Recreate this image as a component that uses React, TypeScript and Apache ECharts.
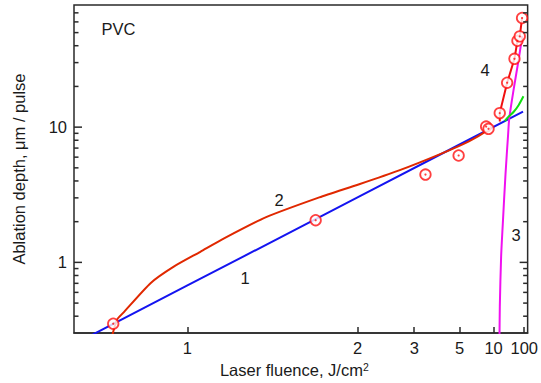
import { useEffect, useRef } from "react";
import * as echarts from "echarts";

// x axis is a reciprocal fluence scale: position u = -1 / F
const X_MIN = -4 / 3;
const X_MAX = 0;
const Y_MIN = 0.3;
const Y_MAX = 80;

const xTickFluence = [1, 2, 3, 5, 10, 100];
const yMajorTicks = [1, 10];
const yMinorTicks = [0.4, 0.5, 0.6, 0.7, 0.8, 0.9, 2, 3, 4, 5, 6, 7, 8, 9, 20, 30, 40, 50, 60, 70];

// experimental points (open circles)
const expFluence = [0.821, 1.605, 3.33, 4.93, 8.2, 8.7, 12.2, 16.6, 25.8, 33.4, 43.2, 61];
const expDepth = [0.352, 2.05, 4.46, 6.17, 10.1, 9.72, 12.7, 21.3, 32.0, 43.5, 46.9, 64.1];

// curve 1 (blue)
const c1Fluence = [0.72, 1, 2, 5, 74];
const c1Depth = [0.21, 0.675, 3.02, 7.44, 13.0];

// curve 2 (red-orange)
const c2Fluence = [0.818, 0.829, 0.8412, 0.9022, 0.9614, 1.0396, 1.119, 1.301, 1.633, 2.02, 2.647, 3.838, 5.793, 8.143, 9.25];
const c2Depth = [0.28, 0.379, 0.4235, 0.702, 0.93, 1.198, 1.498, 2.159, 3.024, 3.784, 4.79, 6.27, 7.86, 9.3, 10.17];

// curve 3 (magenta)
const c3Fluence = [12.0, 12.1, 12.23, 12.83, 13.7, 15.37, 17.41, 18.54, 24.55, 38.34, 63.2];
const c3Depth = [0.25, 0.296, 0.474, 1.1, 1.93, 4.48, 8.78, 11.64, 19.29, 31.97, 47.3];

// curve 4 (red, through the high-fluence points)
const c4Fluence = [12.23, 12.2, 16.6, 25.8, 33.4, 43.2, 61];
const c4Depth = [11.0, 12.7, 21.3, 32.0, 43.5, 46.9, 64.1];

// green curve
const cgFluence = [14.9, 18.05, 24.5, 38.3, 81];
const cgDepth = [11.1, 12.0, 13.0, 14.6, 16.9];

const FONT = "Arial, 'Liberation Sans', sans-serif";
const AXIS = "#2a2a2a";
const TEXT = "#1a1a1a";

const toU = (f: number) => -1 / f;
const pts = (fs: number[], ds: number[]) => fs.map((f, i) => [toU(f), ds[i]]);

export default function App() {
  const ref = useRef<HTMLDivElement>(null);
  useEffect(() => {
    if (!ref.current) return;
    const chart = echarts.init(ref.current, null, { renderer: "svg" });
    const yTickData = [
      ...yMajorTicks.map((v) => [X_MIN, v, 1]),
      ...yMinorTicks.map((v) => [X_MIN, v, 0]),
    ];
    const lineSeries = (data: number[][], color: string, smooth: number | boolean, width = 2) => ({
      type: "line",
      data,
      showSymbol: false,
      symbol: "none",
      smooth,
      clip: true,
      silent: true,
      lineStyle: { color, width },
    });
    const label = (text: string, x: number, y: number) => ({
      type: "text",
      x,
      y,
      style: { text, align: "center", verticalAlign: "middle", fontSize: 16.5, fontFamily: FONT, fill: TEXT },
    });
    chart.setOption({
      animation: false,
      backgroundColor: "#fff",
      grid: { left: 74, right: 12, top: 5, bottom: 45, show: true, borderColor: AXIS, borderWidth: 1.5, containLabel: false },
      xAxis: {
        type: "value",
        min: X_MIN,
        max: X_MAX,
        axisLine: { show: true, lineStyle: { color: AXIS, width: 1.5 } },
        splitLine: { show: false },
        axisTick: {
          show: true,
          inside: true,
          length: 6,
          customValues: xTickFluence.map(toU),
          lineStyle: { color: AXIS, width: 1.5 },
        },
        axisLabel: {
          customValues: xTickFluence.map(toU),
          formatter: (v: number) => String(Math.round(-1 / v)),
          margin: 6,
          fontSize: 16.5,
          fontFamily: FONT,
          color: TEXT,
        },
        name: "Laser fluence, J/cm{sup|2}",
        nameLocation: "middle",
        nameGap: 24,
        nameTextStyle: {
          fontSize: 16.5,
          fontFamily: FONT,
          color: TEXT,
          padding: [0, 13, 0, 0],
          rich: { sup: { fontSize: 10.5, fontFamily: FONT, color: TEXT, verticalAlign: "top" } },
        },
      },
      yAxis: {
        type: "log",
        logBase: 10,
        min: Y_MIN,
        max: Y_MAX,
        axisLine: { show: false },
        axisTick: { show: false },
        axisLabel: { show: false },
        splitLine: { show: false },
        minorTick: { show: false },
        name: "Ablation depth, \u03bcm / pulse",
        nameLocation: "middle",
        nameGap: 47,
        nameTextStyle: { fontSize: 16.5, fontFamily: FONT, color: TEXT },
      },
      graphic: [
        label("PVC", 118.5, 28.5),
        label("1", 245, 278),
        label("2", 279, 200),
        label("3", 516, 235),
        label("4", 485, 70),
      ],
      series: [
        lineSeries(pts(c1Fluence, c1Depth), "#1414f0", false),
        lineSeries(pts(c3Fluence, c3Depth), "#f010f0", 0.3),
        lineSeries(pts(cgFluence, cgDepth), "#10e010", 0.3),
        lineSeries(pts(c2Fluence, c2Depth), "#e02800", 0.2),
        lineSeries(pts(c4Fluence, c4Depth), "#f01010", false),
        {
          type: "scatter",
          data: pts(expFluence, expDepth),
          symbol: "circle",
          symbolSize: 10.5,
          silent: true,
          itemStyle: { color: "#fff", borderColor: "#ff1010", borderWidth: 1.8 },
          z: 5,
        },
        {
          type: "scatter",
          data: pts(expFluence, expDepth),
          symbol: "circle",
          symbolSize: 2.2,
          silent: true,
          itemStyle: { color: "#ff1010" },
          z: 6,
        },
        {
          type: "custom",
          data: yTickData,
          silent: true,
          z: 10,
          renderItem: (_params: any, api: any) => {
            const v = api.value(1);
            const major = api.value(2) === 1;
            const pL = api.coord([X_MIN, v]);
            const pR = api.coord([X_MAX, v]);
            const len = major ? 8 : 4.5;
            const children: any[] = [
              { type: "line", shape: { x1: pL[0], y1: pL[1], x2: pL[0] + len, y2: pL[1] }, style: { stroke: AXIS, lineWidth: 1.5 } },
              { type: "line", shape: { x1: pR[0], y1: pR[1], x2: pR[0] - len, y2: pR[1] }, style: { stroke: AXIS, lineWidth: 1.5 } },
            ];
            if (major) {
              children.push({
                type: "text",
                style: { text: String(v), x: pL[0] - 7, y: pL[1], align: "right", verticalAlign: "middle", fontSize: 16.5, fontFamily: FONT, fill: TEXT },
              });
            }
            return { type: "group", children };
          },
        },
      ],
    });
    return () => chart.dispose();
  }, []);
  return <div ref={ref} style={{ position: "fixed", left: 0, top: 0, width: 541, height: 383 }} />;
}
